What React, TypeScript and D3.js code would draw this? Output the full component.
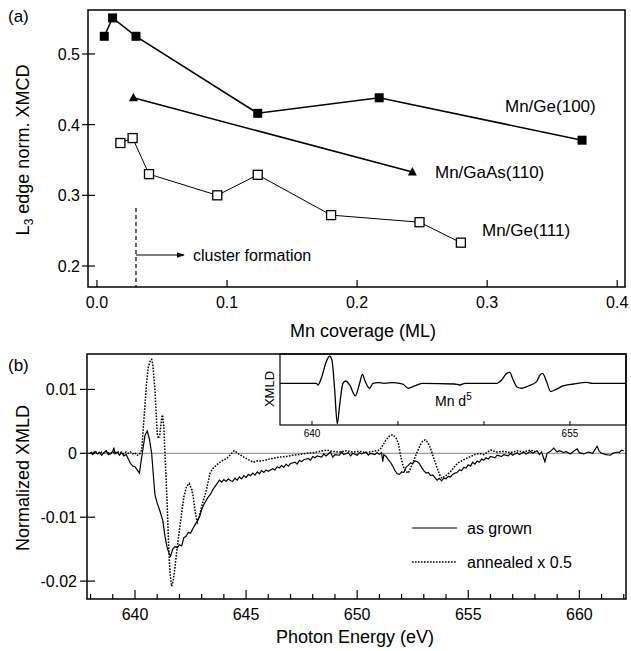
import * as d3 from "d3";

// ---- panel (a) data ----
const geq100: [number, number][] = [
  [0.0056, 0.525], [0.012, 0.551], [0.03, 0.525], [0.1236, 0.416], [0.217, 0.438], [0.373, 0.378],
];
const gaas110: [number, number][] = [
  [0.028, 0.438], [0.2425, 0.333],
];
const geq111: [number, number][] = [
  [0.018, 0.374], [0.0274, 0.381], [0.04, 0.33], [0.0925, 0.3], [0.1236, 0.329],
  [0.18, 0.272], [0.248, 0.262], [0.2798, 0.233],
];
const aTicksX = [0, 0.1, 0.2, 0.3, 0.4];
const aTicksY = [0.2, 0.3, 0.4, 0.5];
const clusterOnset = 0.03;

// ---- panel (b) data ----
const asGrown: [number, number][] = [
  [638.0, 0.0001], [638.1, -0.0002], [638.2, 0.0003], [638.3, -0.0001], [638.4, 0.0002], [638.5, -0.0003],
  [638.6, 0.0001], [638.7, 0.0004], [638.8, -0.0002], [638.9, 0.0], [639.0, 0.0003], [639.05, 0.0009],
  [639.1, -0.0001], [639.2, 0.0002], [639.3, -0.0003], [639.4, 0.0001], [639.5, -0.0004], [639.6, -0.0002],
  [639.7, -0.0009], [639.8, -0.0016], [639.9, -0.002], [640.0, -0.0021], [640.1, -0.0026], [640.2, -0.0031],
  [640.25, -0.0018], [640.35, 0.0005], [640.45, 0.0028], [640.55, 0.0035], [640.65, 0.0022], [640.75, 0.0],
  [640.85, -0.0045], [640.9, -0.0065], [641.0, -0.0078], [641.13, -0.0091], [641.25, -0.0105], [641.35, -0.013],
  [641.45, -0.0148], [641.55, -0.0158], [641.6, -0.0161], [641.7, -0.015], [641.8, -0.0146], [641.9, -0.0148],
  [642.0, -0.0143], [642.1, -0.0145], [642.2, -0.0132], [642.3, -0.013], [642.4, -0.0124], [642.5, -0.0125],
  [642.6, -0.0118], [642.7, -0.0112], [642.8, -0.0106], [642.9, -0.01], [643.0, -0.0088], [643.1, -0.008],
  [643.2, -0.0074], [643.3, -0.0068], [643.4, -0.0064], [643.5, -0.0057], [643.6, -0.0052], [643.7, -0.0047],
  [643.8, -0.0042], [643.9, -0.0045], [644.0, -0.0041], [644.1, -0.0044], [644.2, -0.004], [644.3, -0.0043],
  [644.4, -0.0044], [644.5, -0.0039], [644.6, -0.0042], [644.7, -0.0037], [644.8, -0.004], [644.9, -0.0035],
  [645.0, -0.0038], [645.1, -0.0033], [645.2, -0.0035], [645.3, -0.0031], [645.4, -0.0034], [645.5, -0.0029],
  [645.6, -0.0032], [645.7, -0.0027], [645.8, -0.003], [645.9, -0.0026], [646.0, -0.0028], [646.2, -0.0024],
  [646.3, -0.0026], [646.4, -0.0021], [646.5, -0.0023], [646.6, -0.0019], [646.7, -0.0022], [646.8, -0.0017],
  [646.9, -0.002], [647.0, -0.0016], [647.2, -0.0014], [647.3, -0.0017], [647.4, -0.0011], [647.5, -0.0013],
  [647.6, -0.001], [647.8, -0.0008], [647.9, -0.0011], [648.0, -0.0005], [648.1, -0.0007], [648.2, -0.0004],
  [648.4, -0.0006], [648.5, -0.0001], [648.6, -0.0004], [648.8, 0.0002], [648.9, -0.0006], [649.0, -0.0002],
  [649.2, -0.0003], [649.3, 0.0002], [649.4, -0.0002], [649.6, 0.0001], [649.7, -0.0004], [649.8, 0.0],
  [650.0, -0.0003], [650.1, 0.0001], [650.2, -0.0001], [650.4, 0.0002], [650.5, -0.0003], [650.6, 0.0],
  [650.8, -0.0002], [650.9, 0.0001], [651.0, -0.0002], [651.1, 0.0001], [651.15, -0.0013], [651.2, -0.0002],
  [651.3, -0.0005], [651.4, -0.001], [651.5, -0.0014], [651.6, -0.002], [651.7, -0.0027], [651.8, -0.0032],
  [651.9, -0.0033], [652.0, -0.0029], [652.1, -0.003], [652.2, -0.0022], [652.3, -0.0019], [652.4, -0.0015],
  [652.5, -0.0016], [652.6, -0.0012], [652.7, -0.0013], [652.8, -0.0016], [652.9, -0.0022], [653.0, -0.0027],
  [653.1, -0.0031], [653.2, -0.003], [653.3, -0.0035], [653.4, -0.0034], [653.5, -0.0038], [653.6, -0.0042],
  [653.7, -0.0039], [653.8, -0.0043], [653.9, -0.0039], [654.0, -0.004], [654.1, -0.0036], [654.2, -0.0037],
  [654.3, -0.0033], [654.4, -0.0031], [654.5, -0.003], [654.6, -0.0026], [654.7, -0.0027], [654.8, -0.0022],
  [654.9, -0.0023], [655.0, -0.0018], [655.1, -0.002], [655.2, -0.0014], [655.3, -0.0017], [655.4, -0.0012],
  [655.5, -0.0014], [655.6, -0.0009], [655.7, -0.0011], [655.8, -0.0007], [655.9, -0.0009], [656.0, -0.0005],
  [656.2, -0.0007], [656.3, -0.0003], [656.5, -0.0005], [656.6, -0.0002], [656.8, -0.0004], [656.9, 0.0],
  [657.0, -0.0003], [657.2, 0.0001], [657.3, -0.0002], [657.5, 0.0002], [657.6, -0.0001], [657.8, 0.0003],
  [657.9, 0.0], [658.1, 0.0004], [658.2, -0.0002], [658.3, 0.0002], [658.45, -0.0013], [658.55, 0.0],
  [658.7, 0.0003], [658.85, 0.0008], [659.0, 0.0002], [659.1, 0.0004], [659.3, 0.0001], [659.4, 0.0003],
  [659.6, -0.0001], [659.7, 0.0002], [659.9, 0.0007], [660.0, 0.0001], [660.2, -0.0001], [660.4, 0.0002],
  [660.6, 0.0], [660.8, 0.0011], [660.9, 0.0003], [661.0, 0.0], [661.2, -0.0002], [661.4, -0.0003],
  [661.5, 0.0], [661.7, 0.0002], [661.8, 0.0001], [661.9, 0.0005], [662.0, 0.0004],
];
const annealed: [number, number][] = [
  [638.0, 0.0002], [638.1, 0.0], [638.2, 0.0003], [638.3, 0.0001], [638.4, -0.0001], [638.5, 0.0002],
  [638.6, 0.0], [638.7, 0.0003], [638.8, 0.0001], [638.9, -0.0001], [639.0, 0.0002], [639.1, 0.0],
  [639.2, 0.0003], [639.3, 0.0001], [639.4, 0.0002], [639.5, -0.0001], [639.6, 0.0002], [639.7, 0.0],
  [639.8, 0.0002], [639.9, -0.0001], [640.0, 0.0001], [640.1, -0.0003], [640.2, -0.0002], [640.3, 0.0005],
  [640.42, 0.0062], [640.52, 0.0109], [640.6, 0.0135], [640.7, 0.0146], [640.75, 0.0147], [640.8, 0.014],
  [640.9, 0.0099], [641.0, 0.0031], [641.05, 0.0023], [641.12, 0.003], [641.2, 0.0055], [641.24, 0.006],
  [641.3, 0.004], [641.35, 0.0], [641.45, -0.0083], [641.52, -0.015], [641.58, -0.0188], [641.65, -0.0208],
  [641.72, -0.02], [641.8, -0.0178], [641.87, -0.0156], [642.0, -0.012], [642.1, -0.0094], [642.2, -0.0068],
  [642.32, -0.0052], [642.44, -0.0047], [642.55, -0.0056], [642.62, -0.0068], [642.7, -0.009], [642.8, -0.0108],
  [642.9, -0.0098], [643.0, -0.0083], [643.1, -0.0071], [643.23, -0.0055], [643.38, -0.0031], [643.5, -0.0024],
  [643.68, -0.0018], [643.9, -0.0012], [644.13, -0.0008], [644.3, -0.0002], [644.46, 0.0004], [644.6, 0.0001],
  [644.75, -0.0003], [644.9, -0.0006], [645.1, -0.001], [645.33, -0.0014], [645.5, -0.0012], [645.7, -0.0012],
  [645.93, -0.001], [646.2, -0.0008], [646.5, -0.0006], [646.83, -0.0005], [647.1, -0.0003], [647.4, -0.0002],
  [647.7, 0.0], [648.03, 0.0001], [648.3, 0.0003], [648.63, 0.0005], [648.9, 0.0003], [649.2, 0.0002],
  [649.5, 0.0004], [649.8, 0.0002], [650.1, 0.0003], [650.4, 0.0001], [650.7, 0.0003], [651.0, 0.0005],
  [651.15, 0.0012], [651.3, 0.0021], [651.45, 0.0027], [651.6, 0.0029], [651.75, 0.0024], [651.86, 0.0015],
  [651.95, -0.0003], [652.05, -0.0018], [652.15, -0.0027], [652.3, -0.0031], [652.42, -0.0022], [652.53, -0.0013],
  [652.7, 0.0002], [652.84, 0.0013], [652.95, 0.0019], [653.06, 0.0021], [653.18, 0.0017], [653.3, 0.0008],
  [653.45, -0.0008], [653.6, -0.0023], [653.72, -0.0034], [653.82, -0.0039], [653.95, -0.0036], [654.2, -0.0029],
  [654.5, -0.0016], [654.8, -0.001], [655.1, -0.0005], [655.3, -0.0002], [655.5, 0.0], [655.7, -0.0002],
  [656.0, 0.0005], [656.3, 0.0002], [656.6, 0.0003], [656.9, 0.0001], [657.2, 0.0004], [657.5, 0.0002],
  [657.8, 0.0005], [658.0, 0.0003],
];
// inset: calculated Mn d5 XMLD (arb. units)
const mnD5: [number, number][] = [
  [638.15, 0], [640.25, 0], [640.35, -0.17], [640.54, 0.5], [640.83, 2.17], [641.03, 2.73], [641.16, 2.33],
  [641.32, -0.67], [641.47, -4.07], [641.6, -2.33], [641.8, 0], [641.96, 0.23], [642.19, -0.17], [642.52, -1.27],
  [642.77, 0], [642.93, 0.9], [643.1, 0.17], [643.35, -0.5], [643.55, 0], [643.84, 0.07], [644.2, 0],
  [644.7, 0.07], [645.1, 0], [645.3, -0.1], [645.6, -0.5], [645.97, -0.27], [646.4, 0], [648.3, -0.07],
  [648.59, -0.17], [648.9, 0], [650.74, 0], [651.03, 0.33], [651.32, 1.0], [651.5, 1.1], [651.7, 0.33],
  [651.94, -0.4], [652.19, -0.5], [652.58, -0.27], [653.06, 0.17], [653.26, 0.83], [653.41, 1.0], [653.64, 0.17],
  [653.88, -0.83], [654.13, -0.67], [654.6, -0.27], [655.2, -0.07], [655.97, 0.1], [656.3, 0], [658.26, 0],
];
const bTicksX = [640, 645, 650, 655, 660];
const bMinorX = d3.range(638, 663, 1);
const bTicksY = [0.01, 0, -0.01, -0.02];
const insetTicks = [640, 645, 650, 655];
const insetLabels = [640, 655];

const FONT = "'Liberation Sans', Arial, Helvetica, sans-serif";

export default function App() {
  // panel (a) scales
  const ax = d3.scaleLinear().domain([-0.0069, 0.406]).range([88, 625]);
  const ay = d3.scaleLinear().domain([0.1703, 0.5622]).range([287, 10]);
  const aLine = d3.line<[number, number]>().x((d) => ax(d[0])).y((d) => ay(d[1]));

  // panel (b) scales
  const bx = d3.scaleLinear().domain([637.84, 662.1]).range([87, 626]);
  const by = d3.scaleLinear().domain([-0.0228, 0.01554]).range([599, 354]);
  const bLine = d3.line<[number, number]>().x((d) => bx(d[0])).y((d) => by(d[1]));

  // inset scales
  const ix = d3.scaleLinear().domain([638.14, 658.26]).range([280, 626]);
  const iy = d3.scaleLinear().domain([-4.2, 2.95]).range([425, 354]);
  const iLine = d3
    .line<[number, number]>()
    .x((d) => ix(d[0]))
    .y((d) => iy(d[1]))
    .curve(d3.curveMonotoneX);

  const sq = 9;

  return (
    <svg
      width={631}
      height={651}
      style={{ position: "absolute", left: 0, top: 0, background: "#fff" }}
      fontFamily={FONT}
    >
      <rect x={0} y={0} width={631} height={651} fill="#fff" />
      <defs>
        <marker id="arr" viewBox="0 0 10 10" refX={9} refY={5} markerWidth={8} markerHeight={8} orient="auto" markerUnits="userSpaceOnUse">
          <path d="M0,1.5 L10,5 L0,8.5 Z" fill="#000" />
        </marker>
      </defs>

      {/* ===== panel (a) ===== */}
      <text x={8} y={22} fontSize={17}>(a)</text>
      <rect x={88} y={10} width={537} height={277} fill="none" stroke="#000" strokeWidth={1.5} />
      {aTicksX.map((t) => (
        <g key={"ax" + t}>
          <line x1={ax(t)} x2={ax(t)} y1={287} y2={280} stroke="#000" strokeWidth={1.2} />
          <text x={ax(t)} y={308} fontSize={16} textAnchor="middle">{t.toFixed(1)}</text>
        </g>
      ))}
      {aTicksY.map((t) => (
        <g key={"ay" + t}>
          <line x1={82} x2={95} y1={ay(t)} y2={ay(t)} stroke="#000" strokeWidth={1.2} />
          <text x={80} y={ay(t) + 6} fontSize={16} textAnchor="end">{t.toFixed(1)}</text>
        </g>
      ))}
      <text x={363} y={337} fontSize={18} textAnchor="middle">Mn coverage (ML)</text>
      <text transform="translate(29,150) rotate(-90)" fontSize={18} textAnchor="middle">
        L<tspan fontSize={12} dy={4}>3</tspan>
        <tspan dy={-4}> edge norm. XMCD</tspan>
      </text>

      <line x1={ax(clusterOnset)} x2={ax(clusterOnset)} y1={208} y2={287} stroke="#000" strokeWidth={1.2} strokeDasharray="4,3" />
      <line x1={ax(clusterOnset)} x2={184} y1={255} y2={255} stroke="#000" strokeWidth={1.2} markerEnd="url(#arr)" />
      <text x={193} y={261} fontSize={16}>cluster formation</text>

      <path d={aLine(geq100) || ""} fill="none" stroke="#000" strokeWidth={1.5} />
      <path d={aLine(gaas110) || ""} fill="none" stroke="#000" strokeWidth={1.5} />
      <path d={aLine(geq111) || ""} fill="none" stroke="#000" strokeWidth={1} />
      {geq100.map((d, i) => (
        <rect key={"g" + i} x={ax(d[0]) - sq / 2} y={ay(d[1]) - sq / 2} width={sq} height={sq} fill="#000" />
      ))}
      {gaas110.map((d, i) => (
        <path key={"t" + i} d={`M${ax(d[0])},${ay(d[1]) - 5} l4.5,8.5 l-9,0 Z`} fill="#000" />
      ))}
      {geq111.map((d, i) => (
        <rect key={"o" + i} x={ax(d[0]) - sq / 2} y={ay(d[1]) - sq / 2} width={sq} height={sq} fill="#fff" stroke="#000" strokeWidth={1.3} />
      ))}
      <text x={505} y={112} fontSize={17}>Mn/Ge(100)</text>
      <text x={435} y={178} fontSize={17}>Mn/GaAs(110)</text>
      <text x={482} y={236} fontSize={17}>Mn/Ge(111)</text>

      {/* ===== panel (b) ===== */}
      <text x={8} y={371} fontSize={17}>(b)</text>
      <line x1={87} x2={626} y1={by(0)} y2={by(0)} stroke="#666" strokeWidth={0.8} />
      <path d={bLine(annealed) || ""} fill="none" stroke="#000" strokeWidth={1.5} strokeDasharray="1.6,1.4" />
      <path d={bLine(asGrown) || ""} fill="none" stroke="#000" strokeWidth={1.2} />

      {/* inset */}
      <rect x={280} y={354} width={346} height={71} fill="#fff" stroke="#000" strokeWidth={1.2} />
      {insetTicks.map((t) => (
        <line key={"it" + t} x1={ix(t)} x2={ix(t)} y1={425} y2={421} stroke="#000" strokeWidth={1} />
      ))}
      {insetLabels.map((t) => (
        <text key={"il" + t} x={ix(t)} y={437} fontSize={10} textAnchor="middle">{t}</text>
      ))}
      <path d={iLine(mnD5) || ""} fill="none" stroke="#000" strokeWidth={1.3} />
      <text transform="translate(274,389) rotate(-90)" fontSize={13} textAnchor="middle">XMLD</text>
      <text x={435} y={406} fontSize={14}>
        Mn d<tspan fontSize={10} dy={-6}>5</tspan>
      </text>

      <rect x={87} y={354} width={539} height={245} fill="none" stroke="#000" strokeWidth={1.5} />
      {bMinorX.map((t) => (
        <line key={"bm" + t} x1={bx(t)} x2={bx(t)} y1={599} y2={bTicksX.includes(t) ? 590 : 594} stroke="#000" strokeWidth={1.2} />
      ))}
      {bTicksX.map((t) => (
        <text key={"bx" + t} x={bx(t)} y={620} fontSize={16} textAnchor="middle">{t}</text>
      ))}
      {bTicksY.map((t) => (
        <g key={"by" + t}>
          <line x1={80} x2={95} y1={by(t)} y2={by(t)} stroke="#000" strokeWidth={1.2} />
          <text x={77} y={by(t) + 6} fontSize={16} textAnchor="end">{t === 0 ? "0" : t.toFixed(2)}</text>
        </g>
      ))}
      <text x={355} y={643} fontSize={18} textAnchor="middle">Photon Energy (eV)</text>
      <text transform="translate(29,478) rotate(-90)" fontSize={18} textAnchor="middle">Normalized XMLD</text>

      {/* legend */}
      <line x1={412} x2={457} y1={528} y2={528} stroke="#000" strokeWidth={1.2} />
      <text x={467} y={534} fontSize={16}>as grown</text>
      <line x1={412} x2={457} y1={562} y2={562} stroke="#000" strokeWidth={1.5} strokeDasharray="1.6,1.4" />
      <text x={467} y={568} fontSize={16}>annealed x 0.5</text>
    </svg>
  );
}
